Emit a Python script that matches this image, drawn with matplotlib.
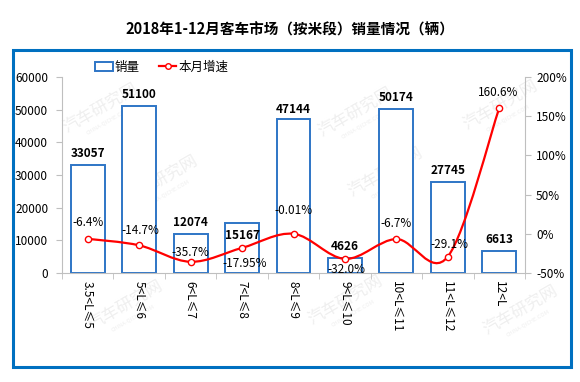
import numpy as np
import matplotlib
matplotlib.use("Agg")
import matplotlib.pyplot as plt
from matplotlib.path import Path
from matplotlib.patches import PathPatch, Rectangle
from matplotlib.lines import Line2D
from matplotlib.ticker import FuncFormatter, MultipleLocator

plt.rcParams['font.family'] = ['Noto Sans CJK SC', 'DejaVu Sans']

# 数据
categories = ['3.5<L≤5', '5<L≤6', '6<L≤7', '7<L≤8', '8<L≤9',
              '9<L≤10', '10<L≤11', '11<L≤12', '12<L']
sales = [33057, 51100, 12074, 15167, 47144, 4626, 50174, 27745, 6613]
growth = [-6.4, -14.7, -35.7, -17.95, -0.01, -32.0, -6.7, -29.1, 160.6]
growth_labels = ['-6.4%', '-14.7%', '-35.7%', '-17.95%', '-0.01%',
                 '-32.0%', '-6.7%', '-29.1%', '160.6%']

# 标签偏移 (points)
bar_dy = [8.6, 8.6, 8.3, -9.0, 7.0, 8.0, 8.6, 8.6, 8.6]
line_off = [(0, 12), (1, 11), (0, 7), (2, -11), (0, 17),
            (1, -8), (0, 11), (1, 9), (-1, 11)]

W, H = 580, 382
fig = plt.figure(figsize=(W / 100, H / 100), dpi=100)

# 外框
fig.patches.append(Rectangle((13 / W, 1 - 367 / H), (571 - 13) / W, (367 - 50) / H,
                             transform=fig.transFigure, fill=False,
                             edgecolor='#0070C0', linewidth=2.2, zorder=0))

fig.text(290 / W, 1 - 30 / H, '2018年1-12月客车市场（按米段）销量情况（辆）',
         ha='center', va='center', fontsize=10.5, fontweight='bold')

# 水印 (淡灰)
wm_pos = [(100, 108), (355, 112), (500, 105), (160, 180), (385, 172),
          (125, 305), (345, 300), (520, 310)]
for (wx, wy) in wm_pos:
    fig.text(wx / W, 1 - wy / H, '汽车研究网', rotation=30, ha='center', va='center',
             fontsize=12, color='#efefef', zorder=-5)
    fig.text((wx + 8) / W, 1 - (wy + 13) / H, 'CHINA-QICHE.COM', rotation=30,
             ha='center', va='center', fontsize=4, color='#efefef', zorder=-5)

ax = fig.add_axes([62 / W, 1 - 273 / H, (525 - 62) / W, (273 - 77) / H])
ax.patch.set_alpha(0)
x = np.arange(len(categories))

bars = ax.bar(x, sales, width=0.66, facecolor='white', edgecolor='#2E75C6',
              linewidth=1.4, zorder=2)
for xi, v, dy in zip(x, sales, bar_dy):
    ax.annotate(str(v), (xi, v), xytext=(0, dy), textcoords='offset points',
                ha='center', va='center', fontsize=8.5, fontweight='bold', zorder=5)

ax.set_xlim(-0.5, len(categories) - 0.5)
ax.set_ylim(0, 60000)
ax.yaxis.set_major_locator(MultipleLocator(10000))
ax.set_xticks(x)
ax.set_xticklabels(categories, rotation=270, fontsize=8.5, va='top', ha='center')
ax.set_xticks(np.arange(-0.5, len(categories)), minor=True)
ax.tick_params(axis='x', which='major', length=0, pad=6)
ax.tick_params(axis='x', which='minor', length=4, color='#bfbfbf')
ax.tick_params(axis='y', length=4, color='#bfbfbf', labelsize=8.5, pad=6)
for s in ['top', 'right']:
    ax.spines[s].set_visible(False)
for s in ['left', 'bottom']:
    ax.spines[s].set_color('#bfbfbf')

ax2 = ax.twinx()
ax2.set_ylim(-50, 200)
ax2.yaxis.set_major_locator(MultipleLocator(50))
ax2.yaxis.set_major_formatter(FuncFormatter(lambda v, p: f'{v:.0f}%'))
ax2.tick_params(axis='y', length=4, color='#bfbfbf', labelsize=8.5, pad=4)
for s in ['top', 'left', 'bottom']:
    ax2.spines[s].set_visible(False)
ax2.spines['right'].set_color('#bfbfbf')

# 平滑曲线 (Catmull-Rom -> Bezier)
pts = np.column_stack([x, growth]).astype(float)
verts = [tuple(pts[0])]
codes = [Path.MOVETO]
n = len(pts)
for i in range(n - 1):
    p0 = pts[i - 1] if i > 0 else pts[i]
    p1 = pts[i]
    p2 = pts[i + 1]
    p3 = pts[i + 2] if i + 2 < n else pts[i + 1]
    c1 = p1 + (p2 - p0) / 6
    c2 = p2 - (p3 - p1) / 6
    verts += [tuple(c1), tuple(c2), tuple(p2)]
    codes += [Path.CURVE4] * 3
ax2.add_patch(PathPatch(Path(verts, codes), facecolor='none', edgecolor='#FF0000',
                        linewidth=1.6, zorder=3))
ax2.plot(x, growth, linestyle='none', marker='o', markersize=4.5,
         markerfacecolor='white', markeredgecolor='#FF0000', markeredgewidth=1, zorder=4)
for xi, v, lab, (dx, dy) in zip(x, growth, growth_labels, line_off):
    ax2.annotate(lab, (xi, v), xytext=(dx, dy), textcoords='offset points',
                 ha='center', va='center', fontsize=8.5, zorder=5)

handles = [Rectangle((0, 0), 1, 1, facecolor='white', edgecolor='#2E75C6', linewidth=1.4),
           Line2D([], [], color='#FF0000', linewidth=1.6, marker='o', markersize=4,
                  markerfacecolor='white', markeredgecolor='#FF0000')]
fig.legend(handles, ['销量', '本月增速'], loc='center left',
           bbox_to_anchor=(90 / W, 1 - 67 / H), ncol=2, frameon=False, fontsize=9,
           handlelength=1.4, handletextpad=0.2, columnspacing=1.5, borderaxespad=0)

fig.savefig('out.png', dpi=100)
